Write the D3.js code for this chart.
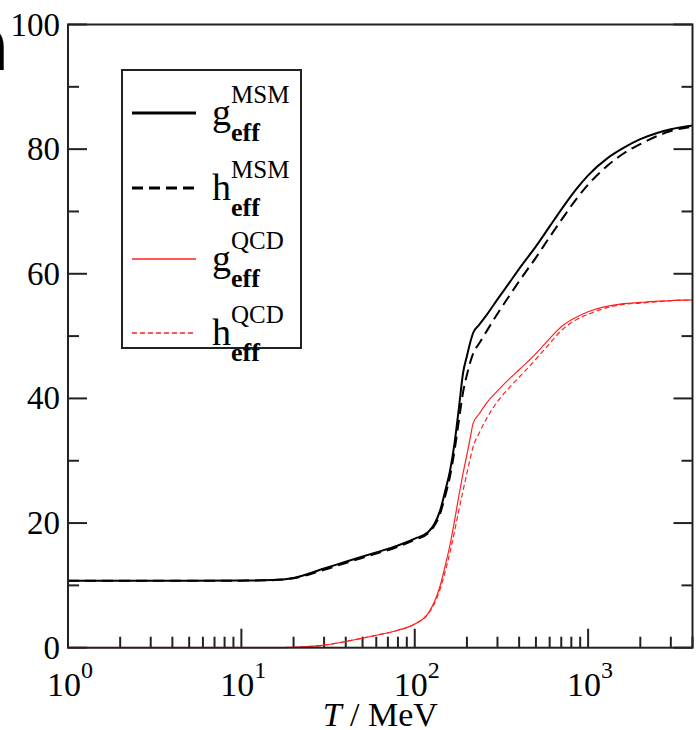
<!DOCTYPE html>
<html>
<head>
<meta charset="utf-8">
<script src="https://cdn.jsdelivr.net/npm/d3@7"></script>
<style>
  body { margin: 0; background: #fff; }
  svg { display: block; }
  text { font-family: "Liberation Serif", "Times New Roman", serif; fill: #000; }
</style>
</head>
<body>
<script>
// temperature grid (MeV)
var T = [1, 2, 5, 10, 15, 20, 30, 40, 60, 80, 100, 120, 130, 140, 150, 160, 170, 180, 190, 200,
         210, 217, 235, 260, 300, 350, 400, 500, 600, 700, 850, 1000, 1300, 1600, 2000, 2500, 3000, 4000];
var gMSM = [10.75, 10.75, 10.75, 10.77, 10.85, 11.2, 12.7, 13.8, 15.3, 16.4, 17.5, 18.6, 19.9, 22.0, 25.2, 28.5, 33, 38.6, 44.1, 46.8,
            49.2, 50.5, 51.8, 53.4, 55.9, 58.5, 60.8, 64.4, 67.6, 70.3, 73.5, 75.8, 78.6, 80.2, 81.6, 82.6, 83.2, 83.8];
var hMSM = [10.75, 10.75, 10.75, 10.76, 10.84, 11.15, 12.5, 13.6, 15.1, 16.2, 17.3, 18.4, 19.6, 21.5, 24.4, 27.6, 31.8, 36.6, 41, 43.8,
            46, 47.2, 48.8, 50.8, 53.6, 56.4, 58.8, 62.6, 65.9, 68.6, 71.9, 74.3, 77.4, 79.3, 80.8, 82.1, 82.9, 83.6];
var gQCD = [0, 0, 0, 0, 0.01, 0.06, 0.4, 1.0, 2.0, 2.8, 3.8, 5.6, 7.4, 9.9, 13.2, 16.6, 20.5, 24.5, 28, 31,
            34, 36, 37.5, 39.3, 41.2, 43.1, 44.6, 47.2, 49.6, 51.5, 53.0, 53.9, 54.8, 55.2, 55.4, 55.6, 55.7, 55.8];
var hQCD = [0, 0, 0, 0, 0.01, 0.06, 0.4, 1.0, 2.0, 2.8, 3.8, 5.5, 7.1, 9.4, 12.3, 15.4, 18.8, 22.2, 25.2, 28,
            30.6, 32.2, 34.4, 36.8, 39.5, 41.7, 43.4, 46.3, 48.8, 50.9, 52.6, 53.5, 54.6, 55.1, 55.3, 55.5, 55.7, 55.8];

var xExp = [0, 1, 2, 3];            // major x ticks 10^n
var yTicks = [0, 20, 40, 60, 80, 100];

var legendNames = ["g", "h", "g", "h"];
var legendSup = ["MSM", "MSM", "QCD", "QCD"];

var width = 696, height = 730;
var plotL = 68, plotR = 692.5, plotT = 24.5, plotB = 647.7;

var svg = d3.select("body").append("svg")
    .attr("width", width)
    .attr("height", height);

var x = d3.scaleLog().domain([1, 4000]).range([plotL, plotR]);
var y = d3.scaleLinear().domain([0, 100]).range([plotB, plotT]);

// stray glyph cut off at the left edge
svg.append("text")
    .attr("x", -41).attr("y", 70)
    .style("font-family", "'DejaVu Sans', sans-serif")
    .style("font-weight", "bold")
    .style("font-size", "75px")
    .text("a");

// ticks (inward)
var xMinor = [];
[1, 10, 100, 1000].forEach(function(d) {
    for (var k = 2; k <= 9; k++) if (d * k <= 4000) xMinor.push(d * k);
});
var xMajor = xExp.map(function(e) { return Math.pow(10, e); });
var yMinor = [10, 30, 50, 70, 90];

var tk = svg.append("g").attr("stroke", "#222").attr("stroke-width", 2);
tk.selectAll(".xmaj").data(xMajor).enter().append("line")
    .attr("x1", function(d) { return x(d); }).attr("x2", function(d) { return x(d); })
    .attr("y1", plotB).attr("y2", plotB - 19);
tk.selectAll(".xmin").data(xMinor).enter().append("line")
    .attr("x1", function(d) { return x(d); }).attr("x2", function(d) { return x(d); })
    .attr("y1", plotB).attr("y2", plotB - 11);
[plotL, plotR].forEach(function(px) {
    var dir = px === plotL ? 1 : -1;
    tk.selectAll(null).data(yTicks).enter().append("line")
        .attr("x1", px).attr("x2", px + dir * 19)
        .attr("y1", function(d) { return y(d); }).attr("y2", function(d) { return y(d); });
    tk.selectAll(null).data(yMinor).enter().append("line")
        .attr("x1", px).attr("x2", px + dir * 11)
        .attr("y1", function(d) { return y(d); }).attr("y2", function(d) { return y(d); });
});

// curves
var line = d3.line()
    .x(function(d) { return x(d[0]); })
    .y(function(d) { return y(d[1]); })
    .curve(d3.curveMonotoneX);

var series = [
    {v: gMSM, color: "#000", w: 2, dash: null},
    {v: hMSM, color: "#000", w: 2, dash: "11,6"},
    {v: gQCD, color: "#ff2020", w: 1.2, dash: null},
    {v: hQCD, color: "#ff2020", w: 1.2, dash: "5,3"}
];
series.forEach(function(s) {
    svg.append("path")
        .datum(T.map(function(t, i) { return [t, s.v[i]]; }))
        .attr("fill", "none")
        .attr("stroke", s.color)
        .attr("stroke-width", s.w)
        .attr("stroke-dasharray", s.dash)
        .attr("d", line);
});

// frame
svg.append("rect")
    .attr("x", plotL).attr("y", plotT)
    .attr("width", plotR - plotL).attr("height", plotB - plotT)
    .attr("fill", "none").attr("stroke", "#222").attr("stroke-width", 2);

// y labels
svg.selectAll(".ylab").data(yTicks).enter().append("text")
    .attr("x", 60).attr("y", function(d) { return y(d) + 11; })
    .attr("text-anchor", "end")
    .style("font-size", "33px")
    .text(function(d) { return d; });

// x labels 10^n
var xl = svg.selectAll(".xlab").data(xExp).enter().append("text")
    .attr("x", function(d) { return x(Math.pow(10, d)) - 21; })
    .attr("y", 696)
    .style("font-size", "34px");
xl.append("tspan").text("10");
xl.append("tspan").attr("dy", -18).style("font-size", "24px").text(function(d) { return d; });

// axis title
var ttl = svg.append("text")
    .attr("x", (plotL + plotR) / 2).attr("y", 726)
    .attr("text-anchor", "middle")
    .style("font-size", "34px");
ttl.append("tspan").style("font-style", "italic").text("T");
ttl.append("tspan").text(" / MeV");

// legend
var lg = svg.append("g");
lg.append("rect")
    .attr("x", 122).attr("y", 70).attr("width", 179).attr("height", 278)
    .attr("fill", "#fff").attr("stroke", "#222").attr("stroke-width", 2);
var ly = [113, 188, 259, 333];
series.forEach(function(s, i) {
    lg.append("line")
        .attr("x1", 132).attr("x2", 196)
        .attr("y1", ly[i]).attr("y2", ly[i])
        .attr("stroke", s.color)
        .attr("stroke-width", i < 2 ? 3 : 1.5)
        .attr("stroke-dasharray", s.dash);
    var base = ly[i] + 12;
    lg.append("text").attr("x", 212).attr("y", base)
        .style("font-size", "38px").text(legendNames[i]);
    lg.append("text").attr("x", 231).attr("y", base - 22)
        .style("font-size", "25px").text(legendSup[i]);
    lg.append("text").attr("x", 231).attr("y", base + 16)
        .style("font-size", "26px").style("font-weight", "bold").text("eff");
});
</script>
</body>
</html>
